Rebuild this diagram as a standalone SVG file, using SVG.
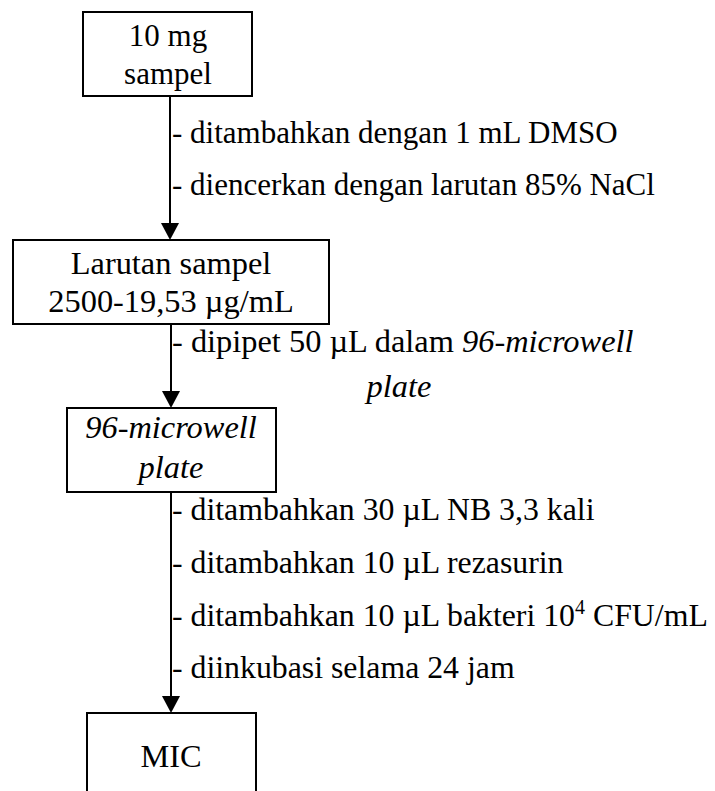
<svg xmlns="http://www.w3.org/2000/svg" width="715" height="791" viewBox="0 0 715 791">
<style>
.box{fill:#fff;stroke:#000;stroke-width:2}
.t{font-size:32.4px;fill:#000}
.s{font-size:31px}
.m{font-size:31.8px}
.c{text-anchor:middle}
.i{font-style:italic}
.ln{stroke:#000;stroke-width:2;fill:none}
</style>
<g id="connectors">
<line class="ln" x1="170" y1="96" x2="170" y2="223"/>
<polygon points="161,223 179,223 170,240" fill="#000"/>
<line class="ln" x1="171" y1="324" x2="171" y2="391"/>
<polygon points="162,391 180,391 171,408" fill="#000"/>
<line class="ln" x1="171" y1="492" x2="171" y2="696"/>
<polygon points="162,696 180,696 171,713" fill="#000"/>
</g>
<g font-family="'Liberation Serif', 'Times New Roman', 'DejaVu Serif', serif">
<g id="node1">
<rect class="box" x="83" y="12" width="169" height="84"/>
<text class="t s c" x="168" y="46">10 mg</text>
<text class="t s c" x="168" y="84">sampel</text>
</g>
<g id="label1">
<text class="t s" x="172" y="143">- ditambahkan dengan 1 mL DMSO</text>
<text class="t s" x="172" y="195">- diencerkan dengan larutan 85% NaCl</text>
</g>
<g id="node2">
<rect class="box" x="13" y="240" width="316" height="84"/>
<text class="t c" x="171" y="274">Larutan sampel</text>
<text class="t c" x="171" y="312">2500-19,53 µg/mL</text>
</g>
<g id="label2">
<text class="t" x="172" y="352">- dipipet 50 µL dalam <tspan class="i">96-microwell</tspan></text>
<text class="t c i" x="399" y="397">plate</text>
</g>
<g id="node3">
<rect class="box" x="67" y="408" width="209" height="84"/>
<text class="t c i" x="171" y="438">96-microwell</text>
<text class="t c i" x="171" y="478">plate</text>
</g>
<g id="label3">
<text class="t m" x="172" y="520">- ditambahkan 30 µL NB 3,3 kali</text>
<text class="t m" x="172" y="573">- ditambahkan 10 µL rezasurin</text>
<text class="t m" x="172" y="626">- ditambahkan 10 µL bakteri 10<tspan font-size="20" dy="-12">4</tspan><tspan dy="12"> CFU/mL</tspan></text>
<text class="t m" x="172" y="678">- diinkubasi selama 24 jam</text>
</g>
<g id="node4">
<rect class="box" x="87" y="713" width="169" height="100"/>
<text class="t c" x="171" y="767">MIC</text>
</g>
</g>
</svg>
